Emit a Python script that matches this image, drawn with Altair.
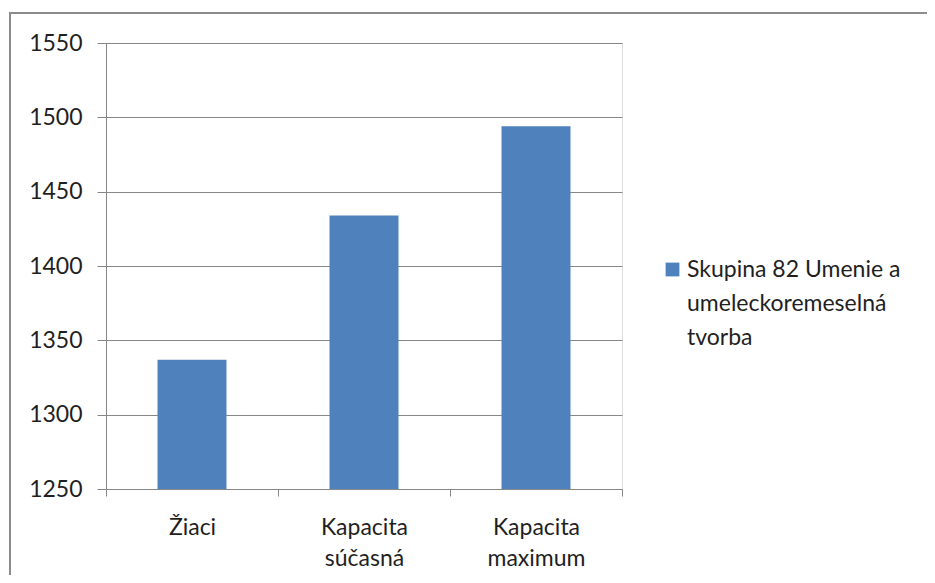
import altair as alt
import pandas as pd

# ---- data ----
categories = ["Žiaci", "Kapacita súčasná", "Kapacita maximum"]
values = [1337, 1434, 1494]
series_name = "Skupina 82 Umenie a umeleckoremeselná tvorba"
legend_lines = ["Skupina 82 Umenie a", "umeleckoremeselná", "tvorba"]
y_ticks = [1250, 1300, 1350, 1400, 1450, 1500, 1550]

df = pd.DataFrame({"cat": categories, "val": values, "series": series_name})

FONT = "Lato"
FS = 23
GREY = "#878787"
TXT = "#1f1f1f"

legend_expr = "[" + ", ".join("'" + s + "'" for s in legend_lines) + "]"

bars = alt.Chart(df).mark_bar(size=69, clip=True).encode(
    x=alt.X(
        "cat:N",
        sort=categories,
        title=None,
        scale=alt.Scale(paddingInner=0, paddingOuter=0),
        axis=alt.Axis(
            labelAngle=0,
            labelExpr="split(datum.label, ' ')",
            labelLineHeight=31,
            labelFont=FONT,
            labelFontSize=FS,
            labelColor=TXT,
            labelPadding=20,
            tickBand="extent",
            tickSize=7,
            tickColor=GREY,
            domainColor=GREY,
            grid=False,
        ),
    ),
    y=alt.Y(
        "val:Q",
        title=None,
        scale=alt.Scale(domain=[y_ticks[0], y_ticks[-1]], zero=False, nice=False),
        axis=alt.Axis(
            values=y_ticks,
            format="d",
            labelFont=FONT,
            labelFontSize=FS,
            labelColor=TXT,
            labelPadding=15,
            tickSize=9,
            tickColor=GREY,
            domainColor=GREY,
            gridColor=GREY,
            grid=True,
        ),
    ),
    color=alt.Color(
        "series:N",
        scale=alt.Scale(range=["#4F81BD"]),
        legend=alt.Legend(
            title=None,
            orient="none",
            legendX=555,
            legendY=215,
            padding=0,
            symbolType="square",
            symbolSize=190,
            symbolStrokeWidth=0,
            labelExpr=legend_expr,
            labelFont=FONT,
            labelFontSize=FS,
            labelColor=TXT,
            labelLimit=400,
            labelOffset=3,
        ),
    ),
)

frame = alt.Chart(pd.DataFrame({"f": [0]})).mark_rect(
    fill="transparent", stroke="#8c8c8c", strokeWidth=2, clip=False
).encode(
    x=alt.value(-96),
    x2=alt.value(1000),
    y=alt.value(-30),
    y2=alt.value(1000),
)

chart = (
    alt.layer(frame, bars)
    .properties(
        width=516,
        height=446,
        autosize=alt.AutoSizeParams(type="none"),
        padding={"left": 98, "top": 35, "right": 305, "bottom": 86},
        background="white",
    )
    .configure_view(strokeWidth=0)
    .configure(style={"guide-label": {"lineHeight": 34}})
)

chart.save("out.html", embed_options={"renderer": "svg", "actions": False})
